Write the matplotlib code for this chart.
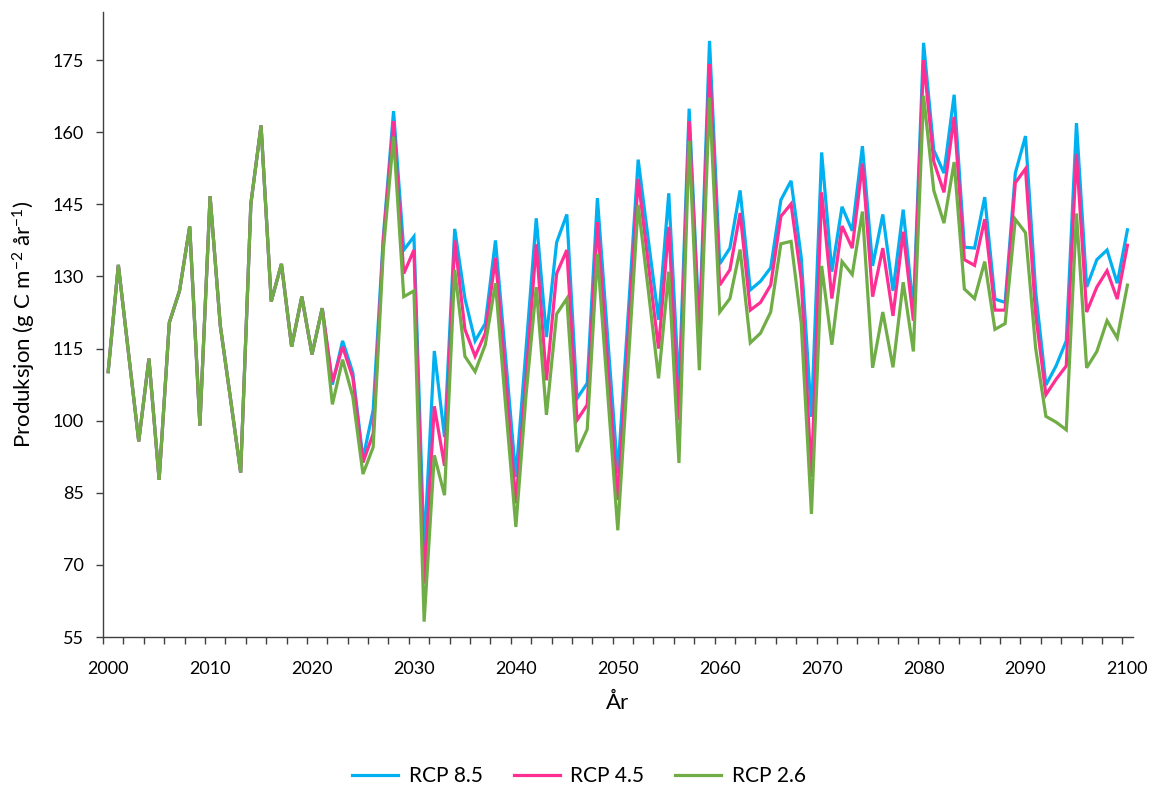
import numpy as np
import matplotlib
matplotlib.use("Agg")
import matplotlib.pyplot as plt
from matplotlib.ticker import FixedLocator

plt.rcParams['font.family'] = ['Lato', 'DejaVu Sans']
plt.rcParams['mathtext.fontset'] = 'custom'
plt.rcParams['mathtext.rm'] = 'Lato'
plt.rcParams['mathtext.it'] = 'Lato:italic'

# år 2000-2100
years = np.arange(2000, 2101)

# felles verdier 2000-2021 (alle scenarier like)
felles = [110.2, 132.4, 114.0, 95.7, 112.9, 87.7, 120.4, 127.0, 140.4, 99.0,
          146.7, 119.8, 104.6, 89.2, 145.1, 161.4, 124.8, 132.6, 115.4, 125.8,
          113.8, 123.4]

# 2022-2100
rcp85 = [107.5, 116.6, 110.0, 92.1, 102.2, 138.3, 164.4, 135.5, 138.3, 73.0,
         114.5, 96.6, 139.9, 125.4, 116.6, 120.2, 137.5, 113.0, 88.3, 115.0,
         142.1, 117.4, 137.1, 142.9, 104.6, 107.8, 146.3, 117.5, 89.0, 121.5,
         154.3, 137.5, 121.0, 147.3, 106.4, 164.9, 119.0, 179.0, 132.6, 135.9,
         147.9, 127.2, 129.0, 131.8, 145.9, 149.9, 133.9, 100.8, 155.8, 131.0,
         144.5, 139.5, 157.1, 132.2, 142.9, 127.0, 143.9, 123.0, 178.6, 156.3,
         151.5, 167.8, 136.1, 135.9, 146.5, 125.3, 124.6, 151.5, 159.2, 126.8,
         107.4, 111.4, 116.6, 161.9, 127.8, 133.5, 135.5, 128.6, 139.7]

rcp45 = [108.0, 115.4, 109.0, 91.3, 97.3, 137.5, 162.3, 130.6, 135.5, 66.1,
         103.0, 90.6, 137.5, 119.0, 113.4, 118.2, 133.9, 109.0, 82.8, 109.0,
         136.7, 108.4, 130.6, 135.5, 100.1, 103.3, 141.3, 112.0, 83.5, 117.0,
         150.3, 132.5, 115.0, 140.3, 100.1, 162.3, 117.0, 174.2, 128.2, 131.4,
         143.2, 123.0, 124.6, 128.2, 142.5, 145.1, 129.4, 88.3, 147.5, 125.4,
         140.5, 135.9, 153.5, 125.8, 135.9, 121.8, 139.3, 120.8, 175.0, 153.9,
         147.5, 163.2, 133.5, 132.3, 141.9, 123.0, 123.0, 149.5, 152.4, 122.0,
         105.4, 108.6, 111.4, 155.5, 122.6, 127.8, 131.2, 125.3, 136.5]

rcp26 = [103.4, 112.7, 105.0, 88.9, 94.5, 135.5, 159.1, 125.8, 127.0, 58.2,
         92.8, 84.5, 131.4, 113.4, 110.2, 115.8, 128.6, 103.0, 77.9, 105.4,
         127.8, 101.2, 122.2, 125.4, 93.5, 98.2, 134.7, 106.0, 77.2, 111.0,
         144.9, 127.0, 108.8, 131.0, 91.2, 158.2, 110.5, 167.2, 122.6, 125.4,
         135.6, 116.2, 118.2, 122.6, 136.8, 137.3, 120.2, 80.6, 132.2, 115.8,
         133.1, 130.4, 143.5, 111.0, 122.6, 111.1, 128.8, 114.4, 167.6, 147.9,
         141.1, 153.8, 127.4, 125.4, 133.1, 119.0, 120.2, 141.9, 139.1, 115.0,
         100.9, 99.7, 98.1, 143.1, 111.0, 114.4, 120.8, 117.2, 128.2]

serier = [("RCP 8.5", felles + rcp85, "#00B0F0"),
          ("RCP 4.5", felles + rcp45, "#FF2E93"),
          ("RCP 2.6", felles + rcp26, "#70AD47")]

fig = plt.figure(figsize=(11.58, 7.88), dpi=100)
ax = fig.add_axes([0.089, 0.1916, 0.889, 0.7931])

for navn, verdier, farge in serier:
    ax.plot(years, verdier, color=farge, linewidth=2.3, label=navn,
            solid_joinstyle='miter')

ax.set_xlim(1999.5, 2100.5)
ax.set_ylim(55, 185)
ax.set_yticks(np.arange(55, 176, 15))
ax.set_xticks(np.arange(2000, 2101, 10))
ax.xaxis.set_minor_locator(FixedLocator(np.arange(1999.5, 2101, 2)))
ax.tick_params(axis='x', which='major', length=0, pad=17, labelsize=13)
ax.tick_params(axis='x', which='minor', length=5, width=1, color='#404040')
ax.tick_params(axis='y', length=5, width=1, color='#404040', labelsize=13, pad=9)

for s in ['top', 'right']:
    ax.spines[s].set_visible(False)
for s in ['left', 'bottom']:
    ax.spines[s].set_color('#404040')
    ax.spines[s].set_linewidth(1)

ax.set_xlabel('År', fontsize=16, labelpad=12)
ax.set_ylabel(r'Produksjon (g C m$^{-2}$ år$^{-1}$)', fontsize=16, labelpad=10)

fig.legend(loc='lower center', bbox_to_anchor=(0.5, -0.021), ncol=3,
           frameon=False, fontsize=15, handlelength=2.2, handletextpad=0.5,
           columnspacing=1.5)

fig.savefig('out.png', dpi=100)
